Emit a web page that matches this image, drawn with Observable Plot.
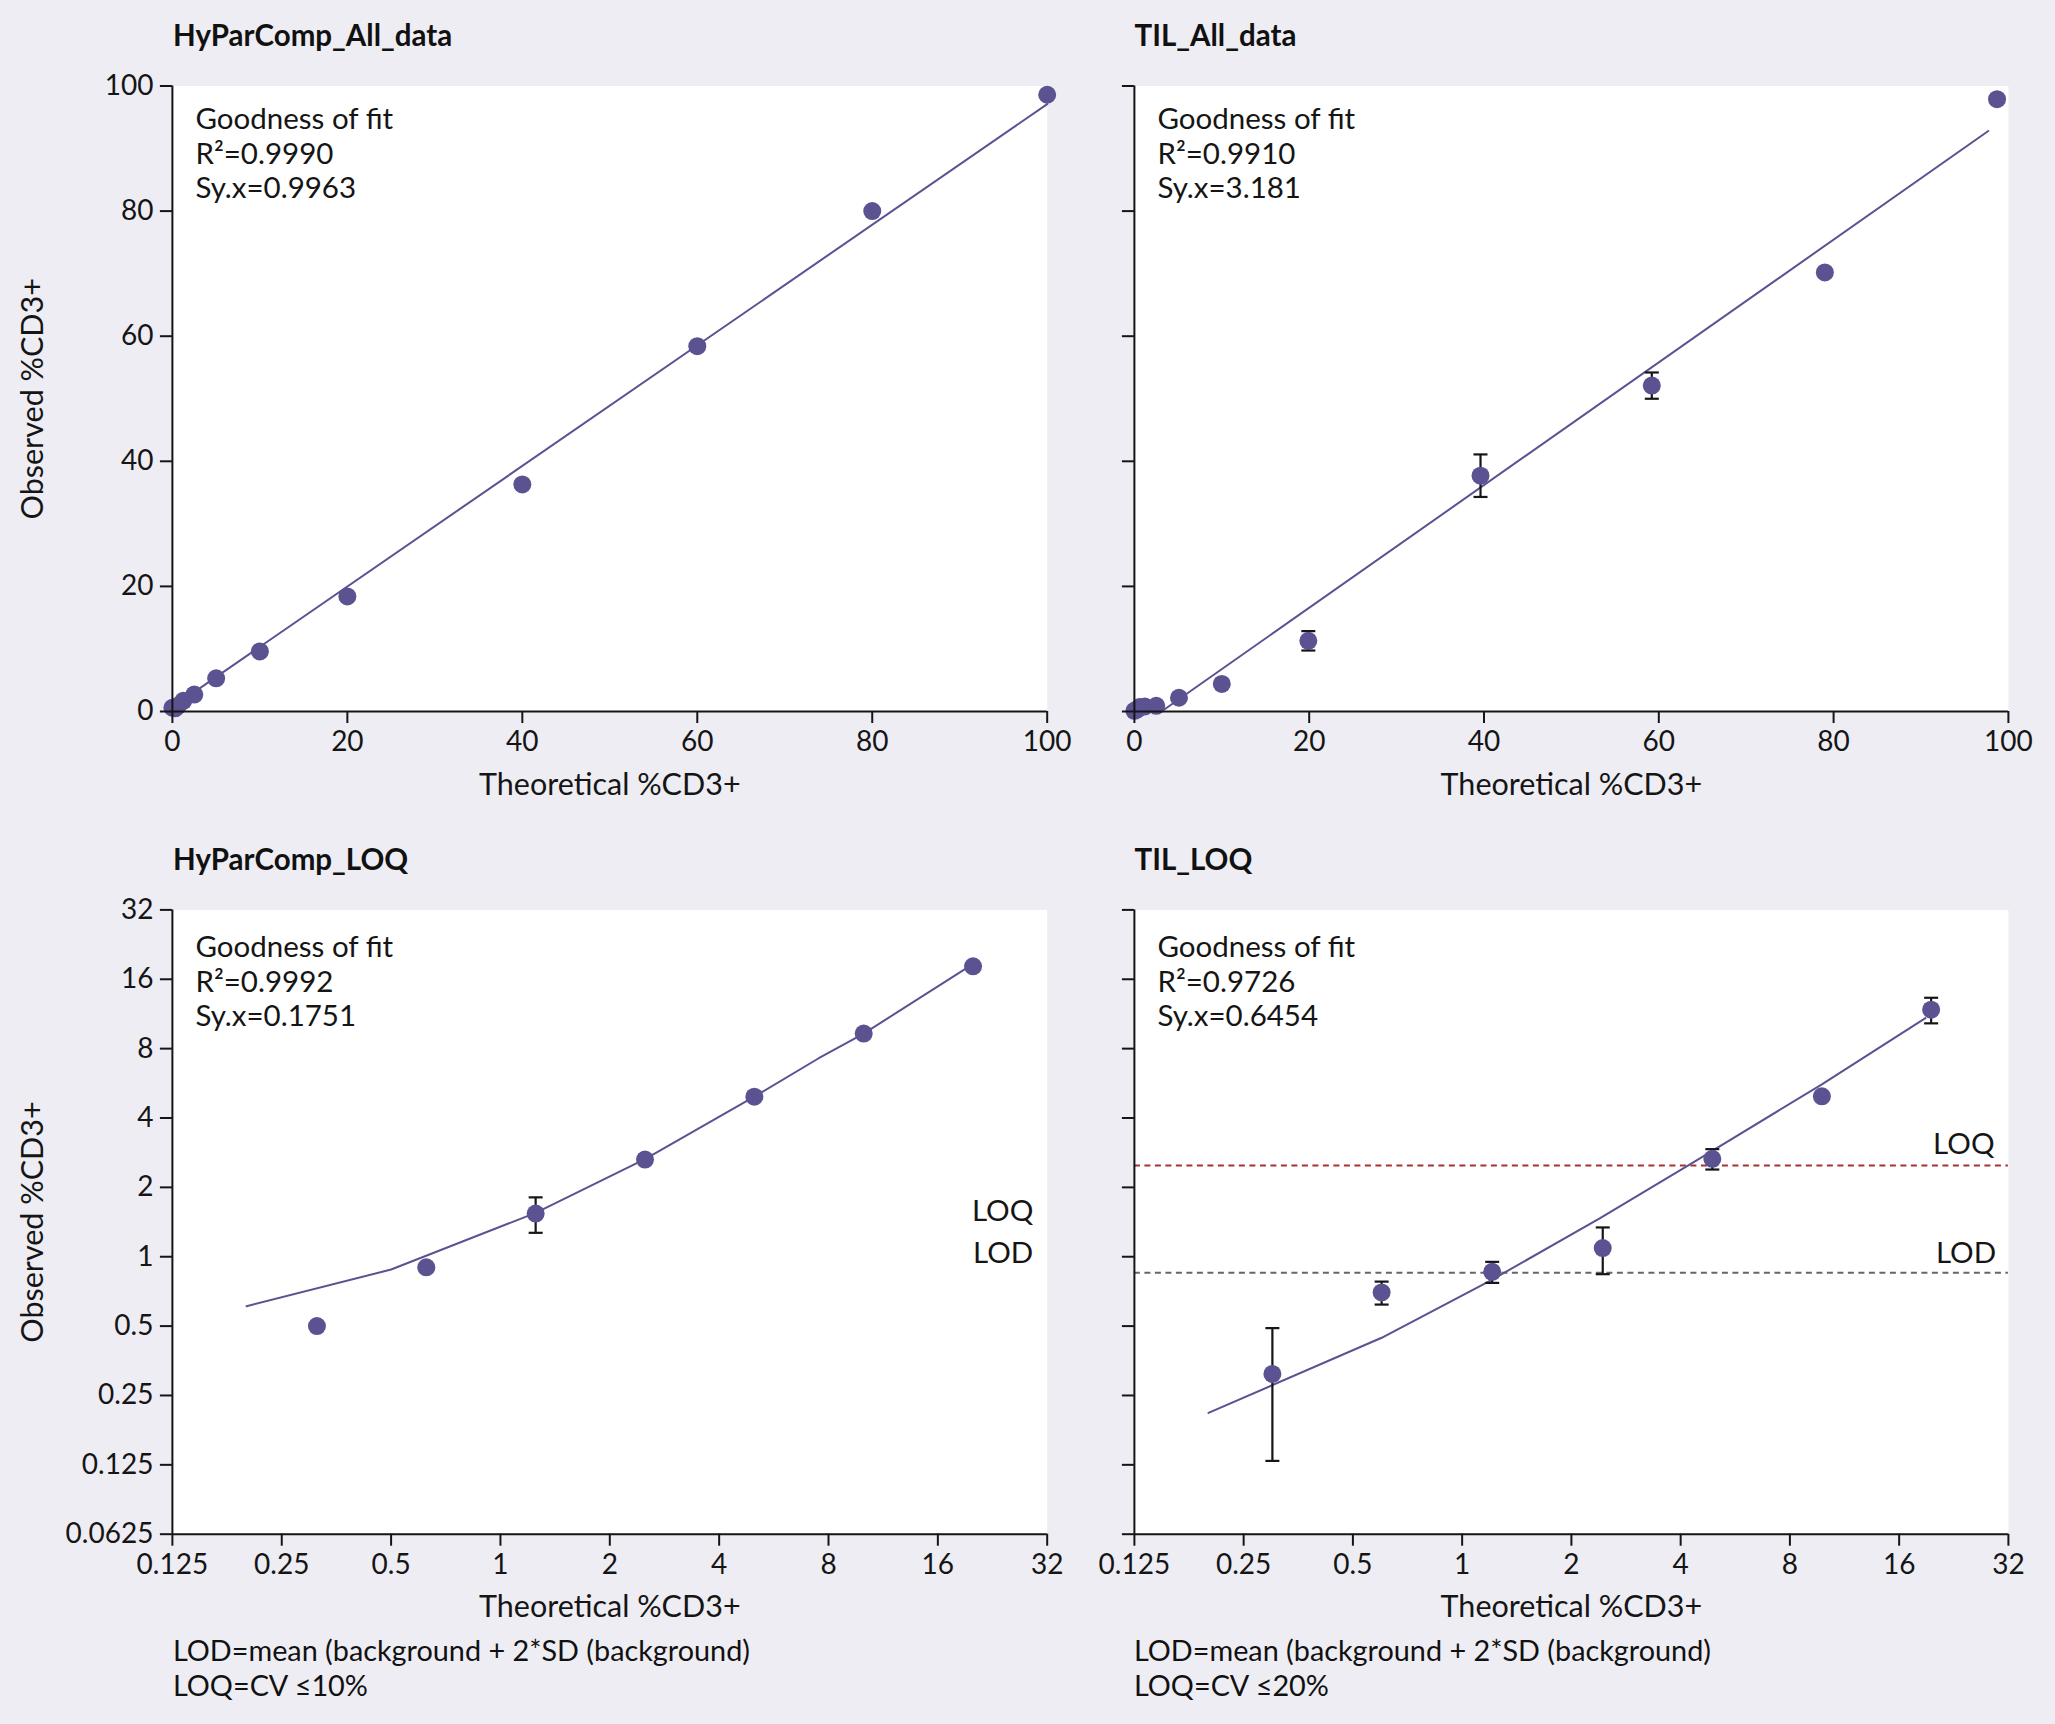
<!DOCTYPE html>
<html><head><meta charset="utf-8">
<script src="https://cdn.jsdelivr.net/npm/d3@7"></script>
<script src="https://cdn.jsdelivr.net/npm/@observablehq/plot@0.6"></script>
<style>
html,body{margin:0;padding:0;background:#eeedf3;}
#root{position:relative;width:2055px;height:1724px;background:#eeedf3;font-family:Lato,'Noto Sans',sans-serif;color:#111;overflow:hidden}
.title{position:absolute;font-weight:700;font-size:29.5px;line-height:29.5px;white-space:nowrap}
.note{position:absolute;font-size:28.8px;line-height:28.8px;white-space:nowrap}
.panel{position:absolute}
.panel svg{overflow:visible}
</style></head><body><div id="root"></div>
<script>
// ---------- data ----------
const panelTitles = ["HyParComp_All_data", "TIL_All_data", "HyParComp_LOQ", "TIL_LOQ"];
const xLabel = "Theoretical %CD3+";
const yLabel = "Observed %CD3+";
const linearTicks = [0, 20, 40, 60, 80, 100];
const linearTickLabels = ["0", "20", "40", "60", "80", "100"];
const logXTicks = [0.125, 0.25, 0.5, 1, 2, 4, 8, 16, 32];
const logXTickLabels = ["0.125", "0.25", "0.5", "1", "2", "4", "8", "16", "32"];
const logYTicks = [0.0625, 0.125, 0.25, 0.5, 1, 2, 4, 8, 16, 32];
const logYTickLabels = ["0.0625", "0.125", "0.25", "0.5", "1", "2", "4", "8", "16", "32"];

// HyParComp_All_data
const hpAllX = [0, 0.3125, 0.625, 1.25, 2.5, 5, 10, 20, 40, 60, 80, 100];
const hpAllY = [0.6, 0.5, 0.9, 1.7, 2.7, 5.3, 9.6, 18.4, 36.3, 58.4, 80.0, 98.6];
const hpAllSD = [0, 0, 0, 0, 0, 0, 0, 0, 0, 0, 0, 0];
const hpAllFitX = [0, 100];
const hpAllFitY = [0.7, 97.1];
const hpAllStats = ["Goodness of fit", "R²=0.9990", "Sy.x=0.9963"];

// TIL_All_data
const tilAllX = [0, 0.3, 0.6, 1.2, 2.5, 5.1, 10, 19.9, 39.6, 59.2, 79.0, 98.7];
const tilAllY = [0.1, 0.31, 0.7, 0.8, 0.9, 2.2, 4.4, 11.3, 37.7, 52.1, 70.2, 97.9];
const tilAllSD = [0, 0, 0, 0, 0, 0, 0, 1.55, 3.4, 2.1, 0, 0];
const tilAllFitX = [3.3, 97.7];
const tilAllFitY = [0.2, 92.8];
const tilAllStats = ["Goodness of fit", "R²=0.9910", "Sy.x=3.181"];

// HyParComp_LOQ
const hpLoqX = [0.3125, 0.625, 1.25, 2.5, 5, 10, 20];
const hpLoqY = [0.5, 0.9, 1.54, 2.64, 4.95, 9.3, 18.2];
const hpLoqSD = [0, 0, 0.27, 0, 0, 0, 0];
const hpLoqFitX = [0.2, 0.5, 1.25, 2.5, 5, 7.5, 10, 19];
const hpLoqFitY = [0.61, 0.88, 1.55, 2.65, 4.95, 7.25, 9.3, 17.7];
const hpLoqStats = ["Goodness of fit", "R²=0.9992", "Sy.x=0.1751"];
const hpLoqRefLabels = ["LOQ", "LOD"];
const hpLoqRefLabelY = [1.57, 1.03];
const hpLoqRefLabelX = [29.3, 29.3];
const hpLoqNotes = ["LOD=mean (background + 2*SD (background)", "LOQ=CV ≤10%"];

// TIL_LOQ
const tilLoqX = [0.3, 0.6, 1.21, 2.44, 4.89, 9.8, 19.6];
const tilLoqY = [0.31, 0.70, 0.86, 1.09, 2.66, 4.97, 11.8];
const tilLoqSD = [0.18, 0.08, 0.09, 0.25, 0.27, 0, 1.5];
const tilLoqFitX = [0.2, 0.6, 1.2, 2.4, 4.3, 9.8, 18.9];
const tilLoqFitY = [0.21, 0.445, 0.79, 1.47, 2.55, 5.6, 10.85];
const tilLoqStats = ["Goodness of fit", "R²=0.9726", "Sy.x=0.6454"];
const tilLoqRefNames = ["LOQ", "LOD"];
const tilLoqRefValues = [2.49, 0.852];
const tilLoqRefColors = ["#a83232", "#666666"];
const tilLoqRefLabelY = [3.08, 1.03];
const tilLoqRefLabelX = [29.3, 29.6];
const tilLoqNotes = ["LOD=mean (background + 2*SD (background)", "LOQ=CV ≤20%"];

// ---------- style ----------
const PURPLE = "#5a5291";
const INK = "#151515";
const FS = 28;      // tick labels
const FS_TXT = 29.5; // annotations
const FS_LAB = 30.5; // axis titles
const FONT = "Lato, 'Noto Sans', sans-serif";

const capSymbol = {
  draw(ctx, size) {
    const w = Math.sqrt(size / Math.PI);
    ctx.moveTo(-w, 0);
    ctx.lineTo(w, 0);
  }
};

function makePanel(o) {
  const pts = o.x.map((x, i) => ({x, y: o.y[i], sd: o.sd[i]}));
  const bars = pts.filter(d => d.sd > 0).map(d => ({x: d.x, lo: d.y - d.sd, hi: d.y + d.sd}));
  const caps = bars.flatMap(b => [{x: b.x, y: b.lo}, {x: b.x, y: b.hi}]);
  const fit = o.fitX.map((x, i) => ({x, y: o.fitY[i]}));
  const refs = (o.refValues || []).map((v, i) => ({v, color: o.refColors[i]}));
  const refLabels = (o.refLabels || []).map((t, i) => ({t, x: o.refLabelX[i], y: o.refLabelY[i]}));
  const marks = [
    Plot.frame({fill: "white", stroke: "none"}),
    ...refs.map(r => Plot.ruleY([r.v], {stroke: r.color, strokeWidth: 2, strokeDasharray: "6,4.5"})),
    Plot.line(fit, {x: "x", y: "y", stroke: PURPLE, strokeWidth: 2}),
    Plot.ruleX(bars, {x: "x", y1: "lo", y2: "hi", stroke: INK, strokeWidth: 2.2}),
    Plot.dot(caps, {x: "x", y: "y", symbol: capSymbol, r: 7, stroke: INK, strokeWidth: 2.2, fill: "none"}),
    Plot.dot(pts, {x: "x", y: "y", r: 9, fill: PURPLE, stroke: "none"}),
    Plot.ruleX([o.xDomain[0]], {stroke: INK, strokeWidth: 2}),
    Plot.ruleY([o.yDomain[0]], {stroke: INK, strokeWidth: 2}),
    Plot.axisX({ticks: o.xTicks, tickFormat: d => o.xTickLabels[o.xTicks.indexOf(d)], tickSize: 12, tickPadding: 8, fontSize: FS, strokeWidth: 2, label: null}),
    Plot.axisY({ticks: o.yTicks, tickFormat: d => (o.yTickLabels ? o.yTickLabels[o.yTicks.indexOf(d)] : ""), tickSize: 12, tickPadding: 7, fontSize: FS, strokeWidth: 2, label: null}),
    Plot.text([o.stats.join("\n")], {text: d => d, frameAnchor: "top-left", dx: 23, dy: o.statsDy, lineAnchor: "top", textAnchor: "start", fontSize: FS_TXT, lineHeight: 1.17, fill: INK}),
    Plot.text([xLabel], {text: d => d, frameAnchor: "bottom", dy: o.xLabelDy, lineAnchor: "middle", fontSize: FS_LAB, fill: INK}),
    Plot.text(refLabels, {x: "x", y: "y", text: "t", textAnchor: "end", lineAnchor: "middle", fontSize: FS_TXT, fill: INK})
  ];
  if (o.showYLabel) {
    marks.push(Plot.text([yLabel], {text: d => d, frameAnchor: "left", dx: o.yLabelDx, rotate: -90, lineAnchor: "middle", textAnchor: "middle", fontSize: FS_LAB, fill: INK}));
  }
  const svg = Plot.plot({
    width: o.width, height: o.height,
    marginLeft: o.ml, marginRight: o.mr, marginTop: o.mt, marginBottom: o.mb,
    x: {type: o.xType, domain: o.xDomain, base: o.xType === "log" ? 2 : undefined},
    y: {type: o.yType, domain: o.yDomain, base: o.yType === "log" ? 2 : undefined},
    style: {fontFamily: FONT, fontSize: FS + "px", background: "transparent", color: INK, overflow: "visible"},
    marks
  });
  const div = document.createElement("div");
  div.className = "panel";
  div.style.left = o.left + "px";
  div.style.top = o.top + "px";
  div.appendChild(svg);
  root.appendChild(div);
}

function addText(cls, text, left, top) {
  const d = document.createElement("div");
  d.className = cls;
  d.textContent = text;
  d.style.left = left + "px";
  d.style.top = top + "px";
  root.appendChild(d);
}

const root = document.getElementById("root");

// geometry
const topPanel = {top: 55, height: 755, mt: 30.5, mb: 99, statsDy: 18.5, xLabelDy: 73.5};
const botPanel = {top: 880, height: 745, mt: 29.4, mb: 91.3, statsDy: 23, xLabelDy: 73.3};
const leftCol = {left: 0, width: 1100, ml: 171.9, mr: 53.3};
const rightCol = {left: 1100, width: 955, ml: 33.9, mr: 47.1};

makePanel({...topPanel, ...leftCol, xType: "linear", yType: "linear", xDomain: [0, 100], yDomain: [0, 100],
  xTicks: linearTicks, xTickLabels: linearTickLabels, yTicks: linearTicks, yTickLabels: linearTickLabels,
  x: hpAllX, y: hpAllY, sd: hpAllSD, fitX: hpAllFitX, fitY: hpAllFitY, stats: hpAllStats, showYLabel: true, yLabelDx: -138.9});

makePanel({...topPanel, ...rightCol, xType: "linear", yType: "linear", xDomain: [0, 100], yDomain: [0, 100],
  xTicks: linearTicks, xTickLabels: linearTickLabels, yTicks: linearTicks, yTickLabels: null,
  x: tilAllX, y: tilAllY, sd: tilAllSD, fitX: tilAllFitX, fitY: tilAllFitY, stats: tilAllStats, showYLabel: false});

makePanel({...botPanel, ...leftCol, xType: "log", yType: "log", xDomain: [0.125, 32], yDomain: [0.0625, 32],
  xTicks: logXTicks, xTickLabels: logXTickLabels, yTicks: logYTicks, yTickLabels: logYTickLabels,
  x: hpLoqX, y: hpLoqY, sd: hpLoqSD, fitX: hpLoqFitX, fitY: hpLoqFitY, stats: hpLoqStats, showYLabel: true, yLabelDx: -138.9,
  refLabels: hpLoqRefLabels, refLabelX: hpLoqRefLabelX, refLabelY: hpLoqRefLabelY});

makePanel({...botPanel, ...rightCol, xType: "log", yType: "log", xDomain: [0.125, 32], yDomain: [0.0625, 32],
  xTicks: logXTicks, xTickLabels: logXTickLabels, yTicks: logYTicks, yTickLabels: null,
  x: tilLoqX, y: tilLoqY, sd: tilLoqSD, fitX: tilLoqFitX, fitY: tilLoqFitY, stats: tilLoqStats, showYLabel: false,
  refValues: tilLoqRefValues, refColors: tilLoqRefColors,
  refLabels: tilLoqRefNames, refLabelX: tilLoqRefLabelX, refLabelY: tilLoqRefLabelY});

// titles and notes
addText("title", panelTitles[0], 173, 20);
addText("title", panelTitles[1], 1134.5, 20);
addText("title", panelTitles[2], 173, 843.5);
addText("title", panelTitles[3], 1134.5, 843.5);
addText("note", hpLoqNotes[0], 173, 1635.5);
addText("note", hpLoqNotes[1], 173, 1670.5);
addText("note", tilLoqNotes[0], 1134, 1635.5);
addText("note", tilLoqNotes[1], 1134, 1670.5);
</script></body></html>
